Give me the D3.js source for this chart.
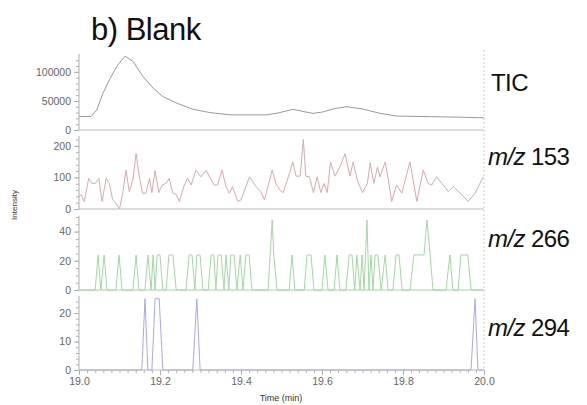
<!DOCTYPE html>
<html><head><meta charset="utf-8">
<script src="https://cdn.jsdelivr.net/npm/d3@7"></script>
<style>
html,body{margin:0;padding:0;background:#fff;}
svg{display:block;font-family:"Liberation Sans",Arial,Helvetica,sans-serif;}
</style></head>
<body><svg id="c" width="587" height="405"></svg>
<script>
// ---- data ----
const ticTime = [19.0,19.030,19.044,19.059,19.077,19.096,19.114,19.133,19.158,19.183,19.207,19.242,19.281,19.323,19.373,19.464,19.496,19.528,19.553,19.578,19.602,19.632,19.662,19.701,19.743,19.785,19.867,19.941,20.0];
const ticValue = [23000,23500,34500,63000,89000,112000,127000,118000,92000,72000,57500,46000,35700,30000,26000,26000,30000,35500,32000,28500,31000,37000,40000,36000,28700,24000,23000,22000,21000];

const mz153Time = [19.0,19.005,19.013,19.024,19.032,19.040,19.049,19.057,19.067,19.075,19.083,19.091,19.100,19.108,19.116,19.124,19.133,19.141,19.149,19.157,19.165,19.174,19.180,19.188,19.197,19.205,19.215,19.223,19.231,19.240,19.248,19.260,19.268,19.277,19.289,19.301,19.314,19.322,19.334,19.342,19.353,19.363,19.371,19.379,19.392,19.400,19.421,19.437,19.449,19.458,19.477,19.486,19.496,19.504,19.517,19.528,19.536,19.546,19.554,19.560,19.569,19.579,19.588,19.597,19.605,19.613,19.621,19.632,19.644,19.657,19.669,19.677,19.687,19.700,19.712,19.719,19.728,19.737,19.743,19.756,19.764,19.772,19.784,19.797,19.817,19.825,19.834,19.850,19.862,19.871,19.883,19.896,19.912,19.924,19.945,19.961,19.978,19.998];
const mz153Value = [40,45,24,97,81,81,97,24,97,81,29,19,0,50,123,55,92,175,102,50,50,97,52,121,52,76,81,97,52,45,24,76,97,76,123,102,123,102,76,76,123,71,50,71,24,29,102,71,55,29,123,81,60,52,102,149,104,104,220,104,102,52,102,52,81,52,149,104,133,175,104,149,92,52,81,146,81,133,102,149,92,24,76,50,149,92,24,123,81,76,102,81,55,71,45,24,50,102];

const mz266Time = [19.0,19.040,19.047,19.054,19.062,19.069,19.091,19.099,19.106,19.133,19.141,19.148,19.163,19.170,19.178,19.183,19.188,19.193,19.200,19.207,19.215,19.222,19.232,19.240,19.264,19.272,19.279,19.286,19.291,19.299,19.306,19.319,19.326,19.333,19.338,19.343,19.351,19.358,19.363,19.370,19.375,19.383,19.390,19.398,19.405,19.412,19.420,19.427,19.467,19.477,19.481,19.489,19.519,19.526,19.533,19.556,19.563,19.573,19.580,19.600,19.607,19.615,19.630,19.637,19.644,19.659,19.667,19.674,19.681,19.686,19.694,19.699,19.704,19.711,19.716,19.721,19.726,19.731,19.738,19.746,19.756,19.763,19.775,19.783,19.790,19.798,19.817,19.827,19.852,19.859,19.867,19.874,19.906,19.916,19.923,19.936,19.943,19.960,19.968,20.0];
const mz266Value = [0,0,24,0,24,0,0,24,0,0,24,0,0,24,0,24,0,24,24,0,0,24,24,0,0,24,24,0,24,24,0,0,24,24,0,24,24,0,24,0,24,24,0,24,0,24,24,0,0,48,24,0,0,24,0,0,24,24,0,0,24,0,0,24,0,0,24,24,0,24,0,24,0,48,0,24,0,24,24,0,24,0,0,24,24,0,0,24,24,48,24,0,0,24,0,0,24,24,0,0];

const mz294Time = [19.0,19.155,19.163,19.170,19.180,19.188,19.198,19.207,19.281,19.291,19.299,19.968,19.978,19.985,20.0];
const mz294Value = [0,0,25,0,0,25,25,0,0,25,0,0,25,0,0];

const xTicks = [19.0,19.2,19.4,19.6,19.8,20.0];
const panelNames = ["TIC","153","266","294"];
const panelTicks = [[0,50000,100000],[0,100,200],[0,20,40],[0,10,20]];
const panelMinor = [10000,20,5,2];
const panelMax = [129000,228,50,25.6];
const panelColors = ["#9a9a9a","#dba9a9","#a3d8a3","#a9a9ec"];

// ---- drawing ----
const svg = d3.select("#c");
const X0 = 79, X1 = 484;
const x = d3.scaleLinear().domain([19,20]).range([X0,X1]);
const bands = [[130,55],[209,137],[290,217],[370,297]];
const series = [
  d3.zip(ticTime,ticValue),
  d3.zip(mz153Time,mz153Value),
  d3.zip(mz266Time,mz266Value),
  d3.zip(mz294Time,mz294Value)
];
const axisColor = "#b0b0b0";

panelNames.forEach((name,i)=>{
  const y = d3.scaleLinear().domain([0,panelMax[i]]).range(bands[i]);
  const g = svg.append("g");
  const minor = d3.range(0,panelMax[i]+1e-9,panelMinor[i]);
  const am = g.append("g").attr("transform",`translate(${X0},0)`)
    .call(d3.axisLeft(y).tickValues(minor).tickSize(3).tickFormat(""));
  am.select(".domain").remove();
  am.selectAll("line").attr("stroke",axisColor);
  const a = g.append("g").attr("transform",`translate(${X0},0)`)
    .call(d3.axisLeft(y).tickValues(panelTicks[i]).tickSize(5).tickPadding(3).tickFormat(d3.format("d")));
  a.select(".domain").attr("stroke",axisColor).attr("d",`M0,${bands[i][0]}V${bands[i][1]-1}`);
  a.selectAll("line").attr("stroke",axisColor);
  a.selectAll("text").attr("fill","#666").style("font-size","10.5px");
  g.append("line").attr("x1",X0).attr("x2",X1).attr("y1",y(0)).attr("y2",y(0))
    .attr("stroke", i===2 ? panelColors[2] : "#bcbcbc").attr("stroke-width",1.2);
  g.append("path").datum(series[i])
    .attr("fill","none").attr("stroke",panelColors[i]).attr("stroke-width",1)
    .attr("stroke-linejoin","round")
    .attr("d",d3.line().x(d=>x(d[0])).y(d=>y(d[1])));
  const ly = [91,165,247,336][i];
  const t = svg.append("text").attr("x", name==="TIC"?491:488).attr("y",ly)
    .attr("fill","#111").style("font-size", "24px").style("letter-spacing","-0.6px");
  if(name==="TIC"){ t.text("TIC"); }
  else {
    t.append("tspan").style("font-style","italic").text("m/z");
    t.append("tspan").text(" "+name);
  }
});

const xMinor = d3.range(19,20.0001,0.02);
const xm = svg.append("g").attr("transform",`translate(0,370)`)
  .call(d3.axisBottom(x).tickValues(xMinor).tickSize(3).tickFormat(""));
xm.select(".domain").remove();
xm.selectAll("line").attr("stroke",axisColor);
const xa = svg.append("g").attr("transform",`translate(0,370)`)
  .call(d3.axisBottom(x).tickValues(xTicks).tickSize(5).tickPadding(3).tickFormat(d3.format(".1f")));
xa.select(".domain").remove();
xa.selectAll("line").attr("stroke",axisColor);
xa.selectAll("text").attr("fill","#666").style("font-size","10.5px");

svg.append("line").attr("x1",X1).attr("x2",X1).attr("y1",50).attr("y2",370)
  .attr("stroke","#cccccc").attr("stroke-dasharray","2,2");

svg.append("text").attr("transform","translate(17,205) rotate(-90)")
  .attr("text-anchor","middle").attr("fill","#333").style("font-size","8px").text("Intensity");
svg.append("text").attr("x",281).attr("y",401).attr("text-anchor","middle")
  .attr("fill","#333").style("font-size","9px").text("Time (min)");

svg.append("text").attr("x",91).attr("y",40).attr("fill","#111")
  .style("font-size","31px").style("letter-spacing","-0.5px").text("b) Blank");
</script></body></html>
